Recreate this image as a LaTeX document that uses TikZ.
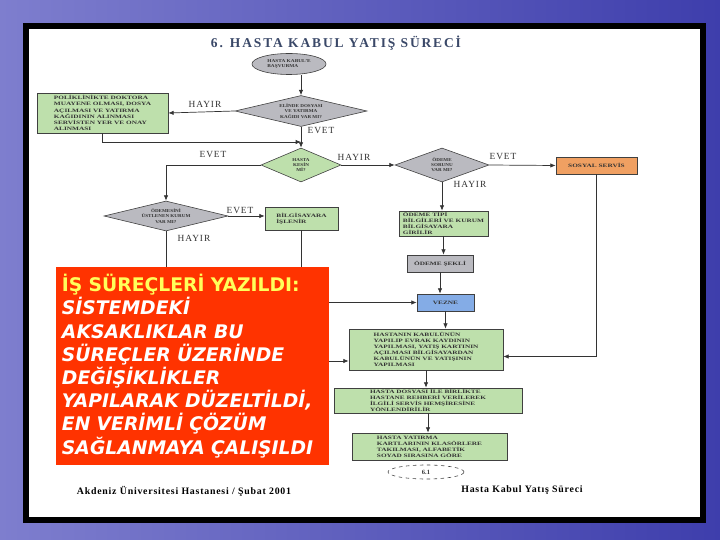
\documentclass[tikz,border=0pt]{standalone}
\usepackage{fontspec}
\setmainfont{Liberation Serif}
\newfontfamily\slidefont{DejaVu Sans}
\usetikzlibrary{shapes.geometric,arrows.meta}
\definecolor{bgleft}{RGB}{126,126,206}
\definecolor{bgright}{RGB}{62,62,172}
\definecolor{boxgreen}{RGB}{190,224,172}
\definecolor{boxgrey}{RGB}{186,186,192}
\definecolor{boxorange}{RGB}{240,160,98}
\definecolor{boxblue}{RGB}{132,172,230}
\definecolor{titleblue}{RGB}{58,72,104}
\definecolor{notered}{RGB}{255,51,0}
\definecolor{noteyellow}{RGB}{255,255,90}
\tikzstyle{flow}=[draw=black!75,line width=0.5pt,text=black!80,inner sep=1.5pt,
  font=\fontsize{4.3}{5.2}\selectfont\bfseries\addfontfeatures{FakeStretch=1.45}]
\tikzstyle{process}=[flow,rectangle,fill=boxgreen,align=left]
\tikzstyle{decision}=[flow,diamond,fill=boxgrey,inner sep=0pt,align=center,
  font=\fontsize{3.8}{4.4}\selectfont\bfseries\addfontfeatures{FakeStretch=1.15}]
\tikzstyle{answer}=[inner sep=0pt,text=black!80,font=\fontsize{8}{9}\selectfont\addfontfeatures{LetterSpace=10}]
\tikzstyle{conn}=[draw=black!80,line width=0.6pt]
\tikzstyle{arr}=[conn,-{Latex[length=1.6mm,width=1.3mm]}]

\begin{document}
\begin{tikzpicture}[x=0.03cm,y=-0.03cm]
  \useasboundingbox (0,0) rectangle (720,540);
  \shade[left color=bgleft,right color=bgright] (0,0) rectangle (720,540);
  \fill[black] (23,23) rectangle (706,523);
  \fill[white] (29,29) rectangle (700,517);

  \node[text=titleblue,font=\fontsize{11.5}{12}\selectfont\bfseries\addfontfeatures{LetterSpace=14}]
    (title) at (336,43) {6. HASTA KABUL YATIŞ SÜRECİ};

  \node[flow,ellipse,fill=boxgrey,minimum width=2.22cm,minimum height=0.63cm,align=left,inner sep=0pt,
    font=\fontsize{3.8}{4.4}\selectfont\bfseries\addfontfeatures{FakeStretch=1.2}]
    (start) at (289,64) {HASTA KABUL'E\\BAŞVURMA};
  \node[decision,aspect=4.2,minimum width=3.96cm,minimum height=0.93cm]
    (d1) at (301,111) {ELİNDE DOSYASI\\VE YATIRMA\\KAĞIDI VAR MI?};
  \node[process,minimum width=3.93cm,minimum height=1.2cm]
    (leftbox) at (102.5,113) {POLİKLİNİKTE DOKTORA\\MUAYENE OLMASI, DOSYA\\AÇILMASI VE YATIRMA\\KAĞIDININ ALINMASI\\SERVİSTEN YER VE ONAY\\ALINMASI};
  \node[decision,fill=boxgreen,aspect=2.35,minimum width=2.4cm,minimum height=1.02cm]
    (d2) at (301,165) {HASTA\\KESİN\\Mİ?};
  \node[decision,aspect=4.1,minimum width=3.72cm,minimum height=0.9cm]
    (d3) at (166,216) {ÖDEMESİNİ\\ÜSTLENEN KURUM\\VAR MI?};
  \node[process,minimum width=2.19cm,minimum height=0.69cm]
    (bilgi) at (301.5,218.5) {BİLGİSAYARA\\İŞLENİR};
  \node[decision,aspect=2.75,minimum width=2.82cm,minimum height=1.02cm]
    (d4) at (442,165) {ÖDEME\\SORUNU\\VAR MI?};
  \node[process,fill=boxorange,minimum width=2.43cm,minimum height=0.51cm]
    (sosyal) at (596.5,165.5) {SOSYAL SERVİS};
  \node[process,minimum width=2.67cm,minimum height=0.63cm,inner sep=1pt]
    (odeme) at (443.5,223.5) {ÖDEME TİPİ\\BİLGİLERİ VE KURUM\\BİLGİSAYARA\\GİRİLİR};
  \node[process,fill=boxgrey,minimum width=1.98cm,minimum height=0.51cm]
    (sekli) at (440,263.5) {ÖDEME ŞEKLİ};
  \node[process,fill=boxblue,minimum width=1.71cm,minimum height=0.51cm]
    (vezne) at (445.5,302.5) {VEZNE};
  \node[process,minimum width=4.62cm,minimum height=1.23cm]
    (kabul) at (426,349.5) {HASTANIN KABULÜNÜN\\YAPILIP EVRAK KAYDININ\\YAPILMASI, YATIŞ KARTININ\\AÇILMASI BİLGİSAYARDAN\\KABULÜNÜN VE YATIŞININ\\YAPILMASI};
  \node[process,minimum width=5.64cm,minimum height=0.75cm,inner sep=1pt]
    (yonlendir) at (428,400.5) {HASTA DOSYASI İLE BİRLİKTE\\HASTANE REHBERİ VERİLEREK\\İLGİLİ SERVİS HEMŞİRESİNE\\YÖNLENDİRİLİR};
  \node[process,minimum width=4.65cm,minimum height=0.81cm,inner sep=1pt]
    (kart) at (429.5,446.5) {HASTA YATIRMA\\KARTLARININ KLASÖRLERE\\TAKILMASI, ALFABETİK\\SOYAD SIRASINA GÖRE};
  \node[flow,ellipse,dashed,minimum width=2.28cm,minimum height=0.42cm,font=\fontsize{5.5}{6}\selectfont\bfseries]
    (cont) at (426,472) {6.1};

  \node[answer] (a1) at (205,104) {HAYIR};
  \node[answer] (a2) at (321,131) {EVET};
  \node[answer] (a3) at (213,155) {EVET};
  \node[answer] (a4) at (354,157) {HAYIR};
  \node[answer] (a5) at (503,157) {EVET};
  \node[answer] (a6) at (470,184) {HAYIR};
  \node[answer] (a7) at (240,211) {EVET};
  \node[answer] (a8) at (194,238) {HAYIR};

  \coordinate (j1) at (301,142);
  \draw[arr] (start.south -| d1.north) -- (d1.north);
  \draw[arr] (d1.west) -- (leftbox.east);
  \draw[arr] (leftbox.south) |- (j1);
  \draw[arr] (d1.south) -- (d2.north);
  \draw[arr] (d2.west) -| (d3.north);
  \draw[arr] (d2.east) -- (d4.west);
  \draw[arr] (d4.east) -- (sosyal.west);
  \draw[arr] (d3.east) -- (bilgi.west |- d3.east);
  \draw[arr] (d4.south) -- (d4.south |- odeme.north);
  \draw[arr] (odeme.south) -- (odeme.south |- sekli.north);
  \draw[arr] (sekli.south) -- (sekli.south |- vezne.north);
  \draw[arr] (vezne.south) -- (vezne.south |- kabul.north);
  \draw[arr] (kabul.south) -- (kabul.south |- yonlendir.north);
  \draw[arr] (yonlendir.south) -- (yonlendir.south |- kart.north);
  \draw[arr] (sosyal.south) |- ([yshift=-0.21cm]kabul.east);
  \draw[arr] (bilgi.south) |- (vezne.west);
  \draw[arr] (d3.south) |- ([yshift=-0.345cm]kabul.west);

  \node[fill=notered,minimum width=8.19cm,minimum height=5.94cm,inner xsep=0.18cm,
    text width=7.83cm,align=left,text=white,
    font=\slidefont\fontsize{16}{19.8}\selectfont\bfseries\itshape]
    (note) at (192.5,366) {{\upshape\color{noteyellow}İŞ SÜREÇLERİ YAZILDI:}\\
    SİSTEMDEKİ\\AKSAKLIKLAR BU\\SÜREÇLER ÜZERİNDE\\DEĞİŞİKLİKLER\\YAPILARAK DÜZELTİLDİ,\\EN VERİMLİ ÇÖZÜM\\SAĞLANMAYA ÇALIŞILDI};

  \node[font=\fontsize{8.4}{9}\selectfont\bfseries\addfontfeatures{LetterSpace=8}]
    (foot1) at (184,491) {Akdeniz Üniversitesi Hastanesi / Şubat 2001};
  \node[font=\fontsize{8.4}{9}\selectfont\bfseries\addfontfeatures{LetterSpace=8}]
    (foot2) at (522,490) {Hasta Kabul Yatış Süreci};
\end{tikzpicture}
\end{document}
